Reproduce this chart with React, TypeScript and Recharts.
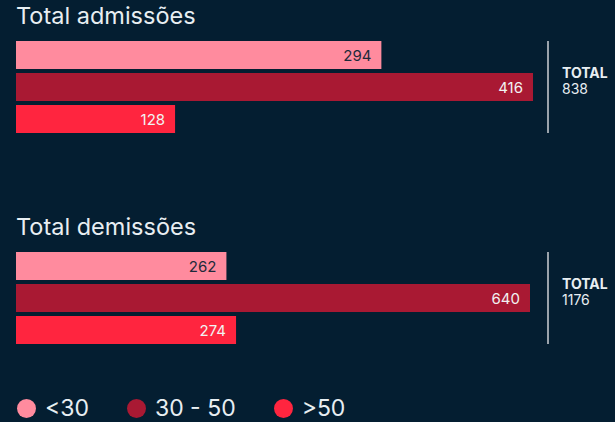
import { Bar, BarChart, Cell, LabelList, XAxis, YAxis } from "recharts";

const brackets = ["<30", "30 - 50", ">50"];
const colors = ["#ff8b9e", "#a91933", "#ff253f"];
const labelColors = ["#1d2a3a", "#f2f2f2", "#f2f2f2"];

const admissoes = [294, 416, 128];
const demissoes = [262, 640, 274];

const bg = "#041e31";
const font = "Inter, 'Open Sans', sans-serif";

function ValueLabel(props: any) {
  const { x, y, width, height, value, index } = props;
  return (
    <text
      x={x + width - 10}
      y={y + height / 2}
      textAnchor="end"
      dominantBaseline="central"
      fontSize={15}
      fontFamily={font}
      fill={labelColors[index]}
    >
      {value}
    </text>
  );
}

function Group({ title, values, top, barWidth }: { title: string; values: number[]; top: number; barWidth: number }) {
  const data = brackets.map((name, i) => ({ name, value: values[i] }));
  const total = values.reduce((a, b) => a + b, 0);
  return (
    <>
      <div style={{ position: "absolute", left: 16, top: top - 38, fontSize: 23.5, color: "#e8eef2", fontFamily: font }}>
        {title}
      </div>
      <div style={{ position: "absolute", left: 16, top }}>
        <BarChart width={barWidth} height={96} data={data} layout="vertical" margin={{ top: 0, right: 0, bottom: 0, left: 0 }}>
          <XAxis type="number" hide domain={[0, Math.max(...values)]} />
          <YAxis type="category" dataKey="name" hide />
          <Bar dataKey="value" barSize={28} isAnimationActive={false}>
            {data.map((d, i) => (
              <Cell key={d.name} fill={colors[i]} />
            ))}
            <LabelList dataKey="value" content={<ValueLabel />} />
          </Bar>
        </BarChart>
      </div>
      <div style={{ position: "absolute", left: 547, top: top + 2, width: 2, height: 92, background: "#9aa3ab" }} />
      <div style={{ position: "absolute", left: 562, top: top + 26, color: "#e8eef2", fontFamily: font, lineHeight: "16px" }}>
        <div style={{ fontSize: 14, fontWeight: 700 }}>TOTAL</div>
        <div style={{ fontSize: 14 }}>{total}</div>
      </div>
    </>
  );
}

export default function App() {
  return (
    <div style={{ position: "absolute", left: 0, top: 0, width: 615, height: 422, background: bg, overflow: "hidden" }}>
      <Group title="Total admissões" values={admissoes} top={39} barWidth={517} />
      <Group title="Total demissões" values={demissoes} top={250} barWidth={514} />
      <div style={{ position: "absolute", left: 17, top: 394, display: "flex", alignItems: "center", fontFamily: font, fontSize: 23, color: "#e8eef2" }}>
        {brackets.map((b, i) => (
          <div key={b} style={{ display: "flex", alignItems: "center", marginRight: 38 }}>
            <span style={{ width: 19, height: 19, borderRadius: "50%", background: colors[i], marginRight: 9 }} />
            <span>{b}</span>
          </div>
        ))}
      </div>
    </div>
  );
}
